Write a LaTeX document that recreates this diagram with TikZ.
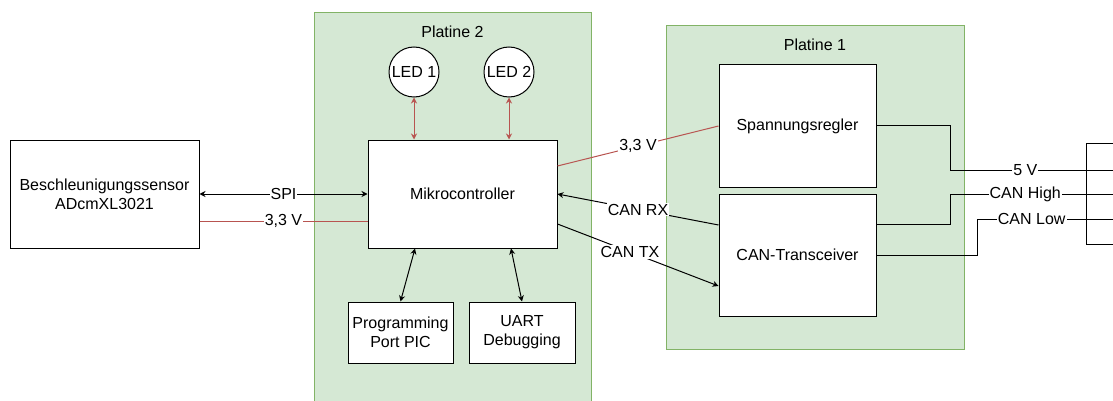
\documentclass[tikz,border=0pt]{standalone}
\usepackage{fontspec}
\setmainfont{Liberation Sans}
\usepackage{xcolor}
\usetikzlibrary{arrows.meta,calc}
\definecolor{boardfill}{HTML}{D5E8D4}
\definecolor{boardline}{HTML}{82B366}
\definecolor{powerred}{HTML}{B85450}
\tikzset{
    board-area/.style = {draw=boardline, fill=boardfill, line width=1pt, rectangle, inner sep=0pt},
    board-title/.style = {font=\fontsize{16}{19}\selectfont},
    block-box/.style = {draw, fill=white, line width=1pt, rectangle, align=center, inner sep=2pt, font=\fontsize{16}{19}\selectfont},
    led-circle/.style = {draw, fill=white, line width=1pt, circle, minimum size=50pt, inner sep=0pt, font=\fontsize{16}{19}\selectfont},
    signal-line/.style = {draw=black, line width=1pt},
    power-line/.style = {draw=powerred, line width=1pt},
    line-label/.style = {fill=white, inner sep=1pt, font=\fontsize{16}{19}\selectfont},
}

\begin{document}
\begin{tikzpicture}[x=1pt, y=-1pt, >={Stealth[length=6pt,width=6pt]}]
\useasboundingbox (0,0) rectangle (1113,401);
% boards
\node[board-area, anchor=north west, minimum width=277pt, minimum height=400pt] (board2) at (314,12) {};
\node[board-title] (board2-title) at (452.5,32) {Platine 2};
\node[board-area, anchor=north west, minimum width=298pt, minimum height=324pt] (board1) at (666,25) {};
\node[board-title] (board1-title) at (815,45) {Platine 1};
% blocks
\node[block-box, minimum width=189pt, minimum height=108pt] (sensor) at (104.5,194) {Beschleunigungssensor\\ADcmXL3021};
\node[block-box, minimum width=189pt, minimum height=108pt] (mcu) at (462.5,194) {Mikrocontroller};
\node[led-circle] (led1) at (414,72) {LED 1};
\node[led-circle] (led2) at (509,72) {LED 2};
\node[block-box, minimum width=105pt, minimum height=61pt] (prog) at (400.5,332.5) {Programming\\Port PIC};
\node[block-box, minimum width=106pt, minimum height=61pt] (uart) at (522,332.5) {UART\\Debugging};
\node[block-box, minimum width=157pt, minimum height=122pt] (regler) at (797.5,126) {Spannungsregler};
\node[block-box, minimum width=157pt, minimum height=122pt] (transceiver) at (797.5,255) {CAN-Transceiver};
\node[block-box, minimum width=50pt, minimum height=101pt] (plug) at (1111,193.5) {};
\coordinate (pin-5v) at (1113,170);
\coordinate (pin-high) at (1113,194);
\coordinate (pin-low) at (1113,219);
% connections
\draw[signal-line, <->] (sensor.east) -- node[line-label]{SPI} (mcu.west);
\draw[power-line] ($(sensor.east)+(0,27)$) -- node[line-label]{3,3 V} ($(mcu.west)+(0,27)$);
\draw[power-line, <->] (led1.south) -- (led1.south |- mcu.north);
\draw[power-line, <->] (led2.south) -- (led2.south |- mcu.north);
\draw[signal-line, <->] ($(mcu.south)+(-47.5,0)$) -- (prog.north);
\draw[signal-line, <->] ($(mcu.south)+(48.5,0)$) -- (uart.north);
\draw[power-line] ($(mcu.east)+(0,-28)$) -- node[line-label]{3,3 V} (regler.west);
\draw[signal-line, ->] ($(transceiver.west)+(0,-30)$) -- node[line-label]{CAN RX} (mcu.east);
\draw[signal-line, ->] ($(mcu.east)+(0,30)$) -- node[line-label, pos=0.45]{CAN TX} ($(transceiver.west)+(0,31)$);
\draw[signal-line] (regler.east) -- ++(74,0) |- node[line-label, pos=0.73]{5 V} (pin-5v);
\draw[signal-line] ($(transceiver.east)+(0,-31)$) -- ++(74,0) |- node[line-label, pos=0.73]{CAN High} (pin-high);
\draw[signal-line] (transceiver.east) -- ++(101,0) |- node[line-label, pos=0.7]{CAN Low} (pin-low);
\end{tikzpicture}
\end{document}
